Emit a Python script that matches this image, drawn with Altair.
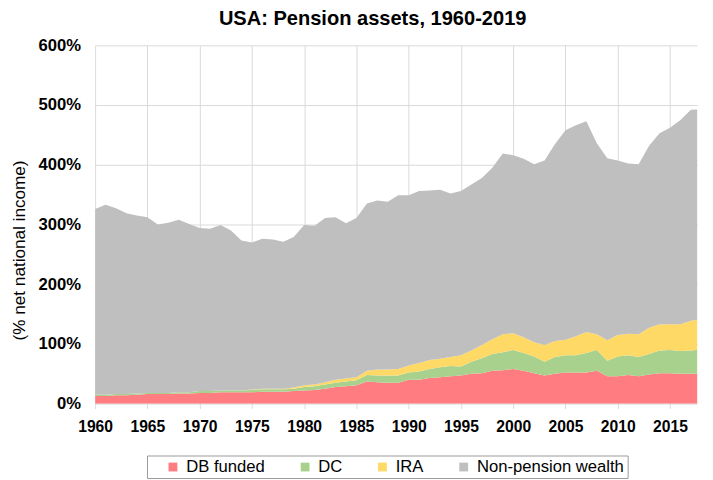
import altair as alt
import pandas as pd

years = list(range(1960, 2019))

db_funded = [13, 13, 14, 14, 15, 16, 16, 16, 17, 17,
             18, 18, 19, 19, 19, 19, 20, 20, 20, 21,
             22, 23, 25, 28, 29, 31, 37, 36, 35, 35,
             40, 40, 43, 44, 46, 47, 50, 51, 55, 56,
             58, 55, 51, 47, 50, 52, 52, 52, 55, 46,
             46, 48, 46, 49, 51, 51, 50, 50, 50]

dc = [2, 2, 2, 2, 2, 2, 2, 2, 2, 2,
      3, 3, 3, 3, 3, 4, 4, 4, 4, 4,
      6, 6, 7, 7, 8, 8, 11, 11, 12, 12,
      12, 14, 15, 17, 17, 15, 20, 25, 28, 30,
      32, 30, 28, 23, 28, 29, 29, 33, 35, 26,
      33, 33, 32, 34, 38, 39, 38, 39, 41]

ira = [0, 0, 0, 0, 0, 0, 0, 0, 0, 0,
       0, 0, 0, 0, 0, 0.5, 1, 1, 1, 2,
       3, 3, 4, 5, 5, 5, 7, 10, 10, 11,
       12, 14, 15, 14, 15, 19, 19, 22, 25, 30,
       28, 26, 24, 28, 27, 26, 32, 35, 26, 34,
       36, 36, 38, 44, 44, 43, 45, 50, 50]

non_pension = [311, 318, 311, 303, 298, 294, 282, 285, 289, 282,
               273, 272, 277, 268, 251, 246.5, 251, 250, 246, 252,
               268, 266, 275, 272, 260, 267, 280, 283, 281, 291,
               285, 288, 284, 283, 274, 275, 278, 280, 287, 303,
               298, 299, 298, 309, 330, 351, 353, 353, 320, 305,
               292, 285, 285, 305, 320, 329, 342, 353, 352]

series_names = ["DB funded", "DC", "IRA", "Non-pension wealth"]
series_colors = ["#FF7C80", "#A9D18E", "#FFD966", "#BFBFBF"]
series_values = [db_funded, dc, ira, non_pension]

x_ticks = list(range(1960, 2016, 5))
y_ticks = [0, 100, 200, 300, 400, 500, 600]

rows = []
for k, (name, vals) in enumerate(zip(series_names, series_values)):
    for yr, v in zip(years, vals):
        rows.append({"year": yr, "value": v, "series": name, "idx": k})
df = pd.DataFrame(rows)

FONT = "Liberation Sans"
GRID = "#D9D9D9"

chart = alt.Chart(df).mark_area(clip=True, interpolate="linear").encode(
    x=alt.X("year:Q",
            scale=alt.Scale(domain=[1960, 2017.6], nice=False, zero=False),
            axis=alt.Axis(values=x_ticks, format="d", title=None,
                          labelFont=FONT, labelFontSize=16, labelFontWeight="bold",
                          labelColor="black", tickSize=5, tickColor=GRID,
                          labelPadding=10, domain=False, gridColor=GRID,
                          labelOverlap=False, labelFlush=False)),
    y=alt.Y("value:Q", stack="zero",
            scale=alt.Scale(domain=[0, 600], nice=False),
            axis=alt.Axis(values=y_ticks, labelExpr="datum.value + '%'",
                          title="(% net national income)",
                          labelFont=FONT, labelFontSize=17, labelFontWeight="bold",
                          labelColor="black", tickSize=0, labelPadding=15,
                          domain=False, gridColor=GRID, labelFlush=False,
                          titleFont=FONT, titleFontSize=17.5, titleFontWeight="normal",
                          titleColor="black", titleAngle=-90, titleX=-77, titleY=209,
                          titleAlign="center", titleBaseline="middle")),
    color=alt.Color("series:N",
                    scale=alt.Scale(domain=series_names, range=series_colors),
                    legend=alt.Legend(orient="none", legendX=53, legendY=419,
                                      direction="horizontal", title=None,
                                      symbolType="square", symbolSize=81,
                                      symbolStrokeWidth=0,
                                      labelFont=FONT, labelFontSize=17,
                                      labelColor="black", labelOffset=5,
                                      columnPadding=17, symbolOffset=15,
                                      padding=3, strokeColor="#999999",
                                      fillColor="white",
                                      labelExpr="datum.label == 'Non-pension wealth' ? datum.label + '\u00a0\u00a0\u00a0\u00a0\u00a0' : datum.label")),
    order=alt.Order("idx:Q", sort="ascending"),
).properties(
    width=615, height=366,
    autosize=alt.AutoSizeParams(type="none"),
    padding={"left": 89, "top": 33, "right": 8, "bottom": 80},
    title=alt.TitleParams("USA: Pension assets, 1960-2019", font=FONT,
                          fontSize=20.5, fontWeight="bold", color="black",
                          anchor="middle", dx=-24, offset=7),
).configure_view(stroke=None)

chart.save("out.html", embed_options={"renderer": "svg", "actions": False})
